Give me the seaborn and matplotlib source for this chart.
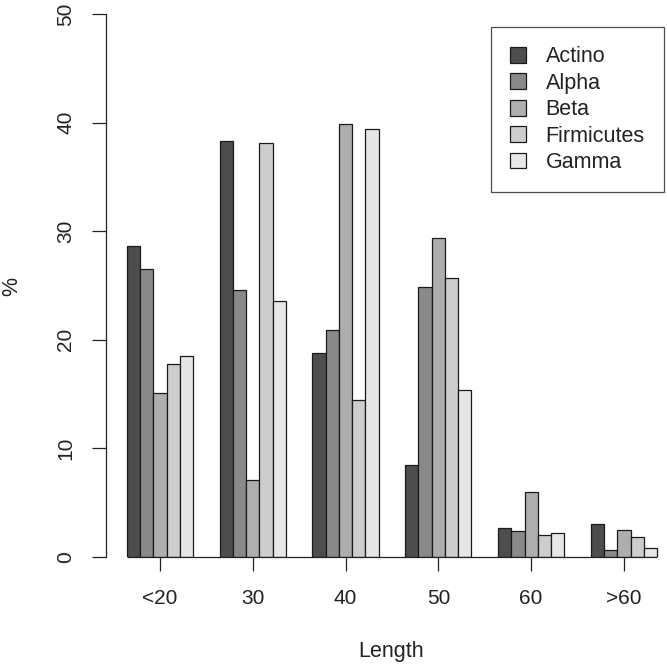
'''grouped barplot of read length share per taxon'''
import numpy as np
import pandas as pd
import seaborn as sns
import matplotlib.pyplot as plt

#region data
lengths = ['<20', '30', '40', '50', '60', '>60']
taxa = ['Actino', 'Alpha', 'Beta', 'Firmicutes', 'Gamma']
actino = [28.6, 38.3, 18.8, 8.5, 2.7, 3.0]
alpha = [26.5, 24.6, 20.9, 24.9, 2.4, 0.6]
beta = [15.1, 7.1, 39.9, 29.4, 6.0, 2.5]
firmicutes = [17.8, 38.1, 14.5, 25.7, 2.0, 1.8]
gamma = [18.5, 23.6, 39.4, 15.4, 2.2, 0.8]
y_ticks = [0, 10, 20, 30, 40, 50]
#endregion

greys = ['#4D4D4D', '#898989', '#AEAEAE', '#CDCDCD', '#E6E6E6']
bar_width = 5 / 7


def build_frame():
    '''(void)->DataFrame long format for seaborn'''
    rows = []
    for taxon, vals in zip(taxa, [actino, alpha, beta, firmicutes, gamma]):
        for length, v in zip(lengths, vals):
            rows.append({'Length': length, 'taxon': taxon, 'pct': v})
    return pd.DataFrame(rows)


def plot():
    sns.set_theme(style='white')
    plt.rcParams['font.family'] = ['Liberation Sans', 'DejaVu Sans']

    df = build_frame()
    fig = plt.figure(figsize=(6.67, 6.66), dpi=100)
    ax = fig.add_axes([106 / 667, 109 / 666, 555 / 667, 543 / 666])

    sns.barplot(data=df, x='Length', y='pct', hue='taxon', order=lengths, hue_order=taxa,
                palette=greys, width=bar_width, edgecolor='#1a1a1a', linewidth=0.9,
                saturation=1, errorbar=None, ax=ax)

    ax.set_xlim(-0.583, 5.4)
    ax.set_ylim(0, 50)
    ax.set_yticks(y_ticks)

    for side in ['top', 'right', 'bottom']:
        ax.spines[side].set_visible(False)
    ax.spines['left'].set_color('#222222')
    ax.spines['left'].set_linewidth(0.9)

    # baseline under the bars
    n = len(lengths)
    ax.hlines(0, -bar_width / 2, n - 1 + bar_width / 2, color='#222222', linewidth=0.9, clip_on=False)

    ax.tick_params(axis='both', direction='out', length=10, width=0.9, color='#222222',
                   labelsize=15, labelcolor='#222222')
    ax.tick_params(axis='x', pad=13, bottom=True)
    ax.tick_params(axis='y', pad=12, left=True)
    for lab in ax.get_yticklabels():
        lab.set_rotation(90)
        lab.set_va('center')

    ax.set_xlabel('Length', fontsize=15.5, color='#222222')
    ax.set_ylabel('%', fontsize=15.5, color='#222222')
    ax.xaxis.set_label_coords((391 - 106) / 555, -(652 - 557) / 543)
    ax.yaxis.set_label_coords(-(106 - 12) / 555, (557 - 287) / 543)
    ax.xaxis.label.set_va('center')
    ax.yaxis.label.set_va('center')

    handles, labels = ax.get_legend_handles_labels()
    if ax.legend_:
        ax.legend_.remove()
    leg = fig.legend(handles, labels, loc='upper right', bbox_to_anchor=(664 / 667, 1 - 27 / 666),
                     bbox_transform=fig.transFigure, borderaxespad=0, fancybox=False,
                     frameon=True, fontsize=15.5, handlelength=0.75, handleheight=0.75,
                     handletextpad=0.9, labelspacing=0.25, borderpad=0.9)
    leg.get_frame().set_edgecolor('#222222')
    leg.get_frame().set_linewidth(0.9)
    for t in leg.get_texts():
        t.set_color('#222222')

    fig.savefig('out.png', dpi=100)


plot()
